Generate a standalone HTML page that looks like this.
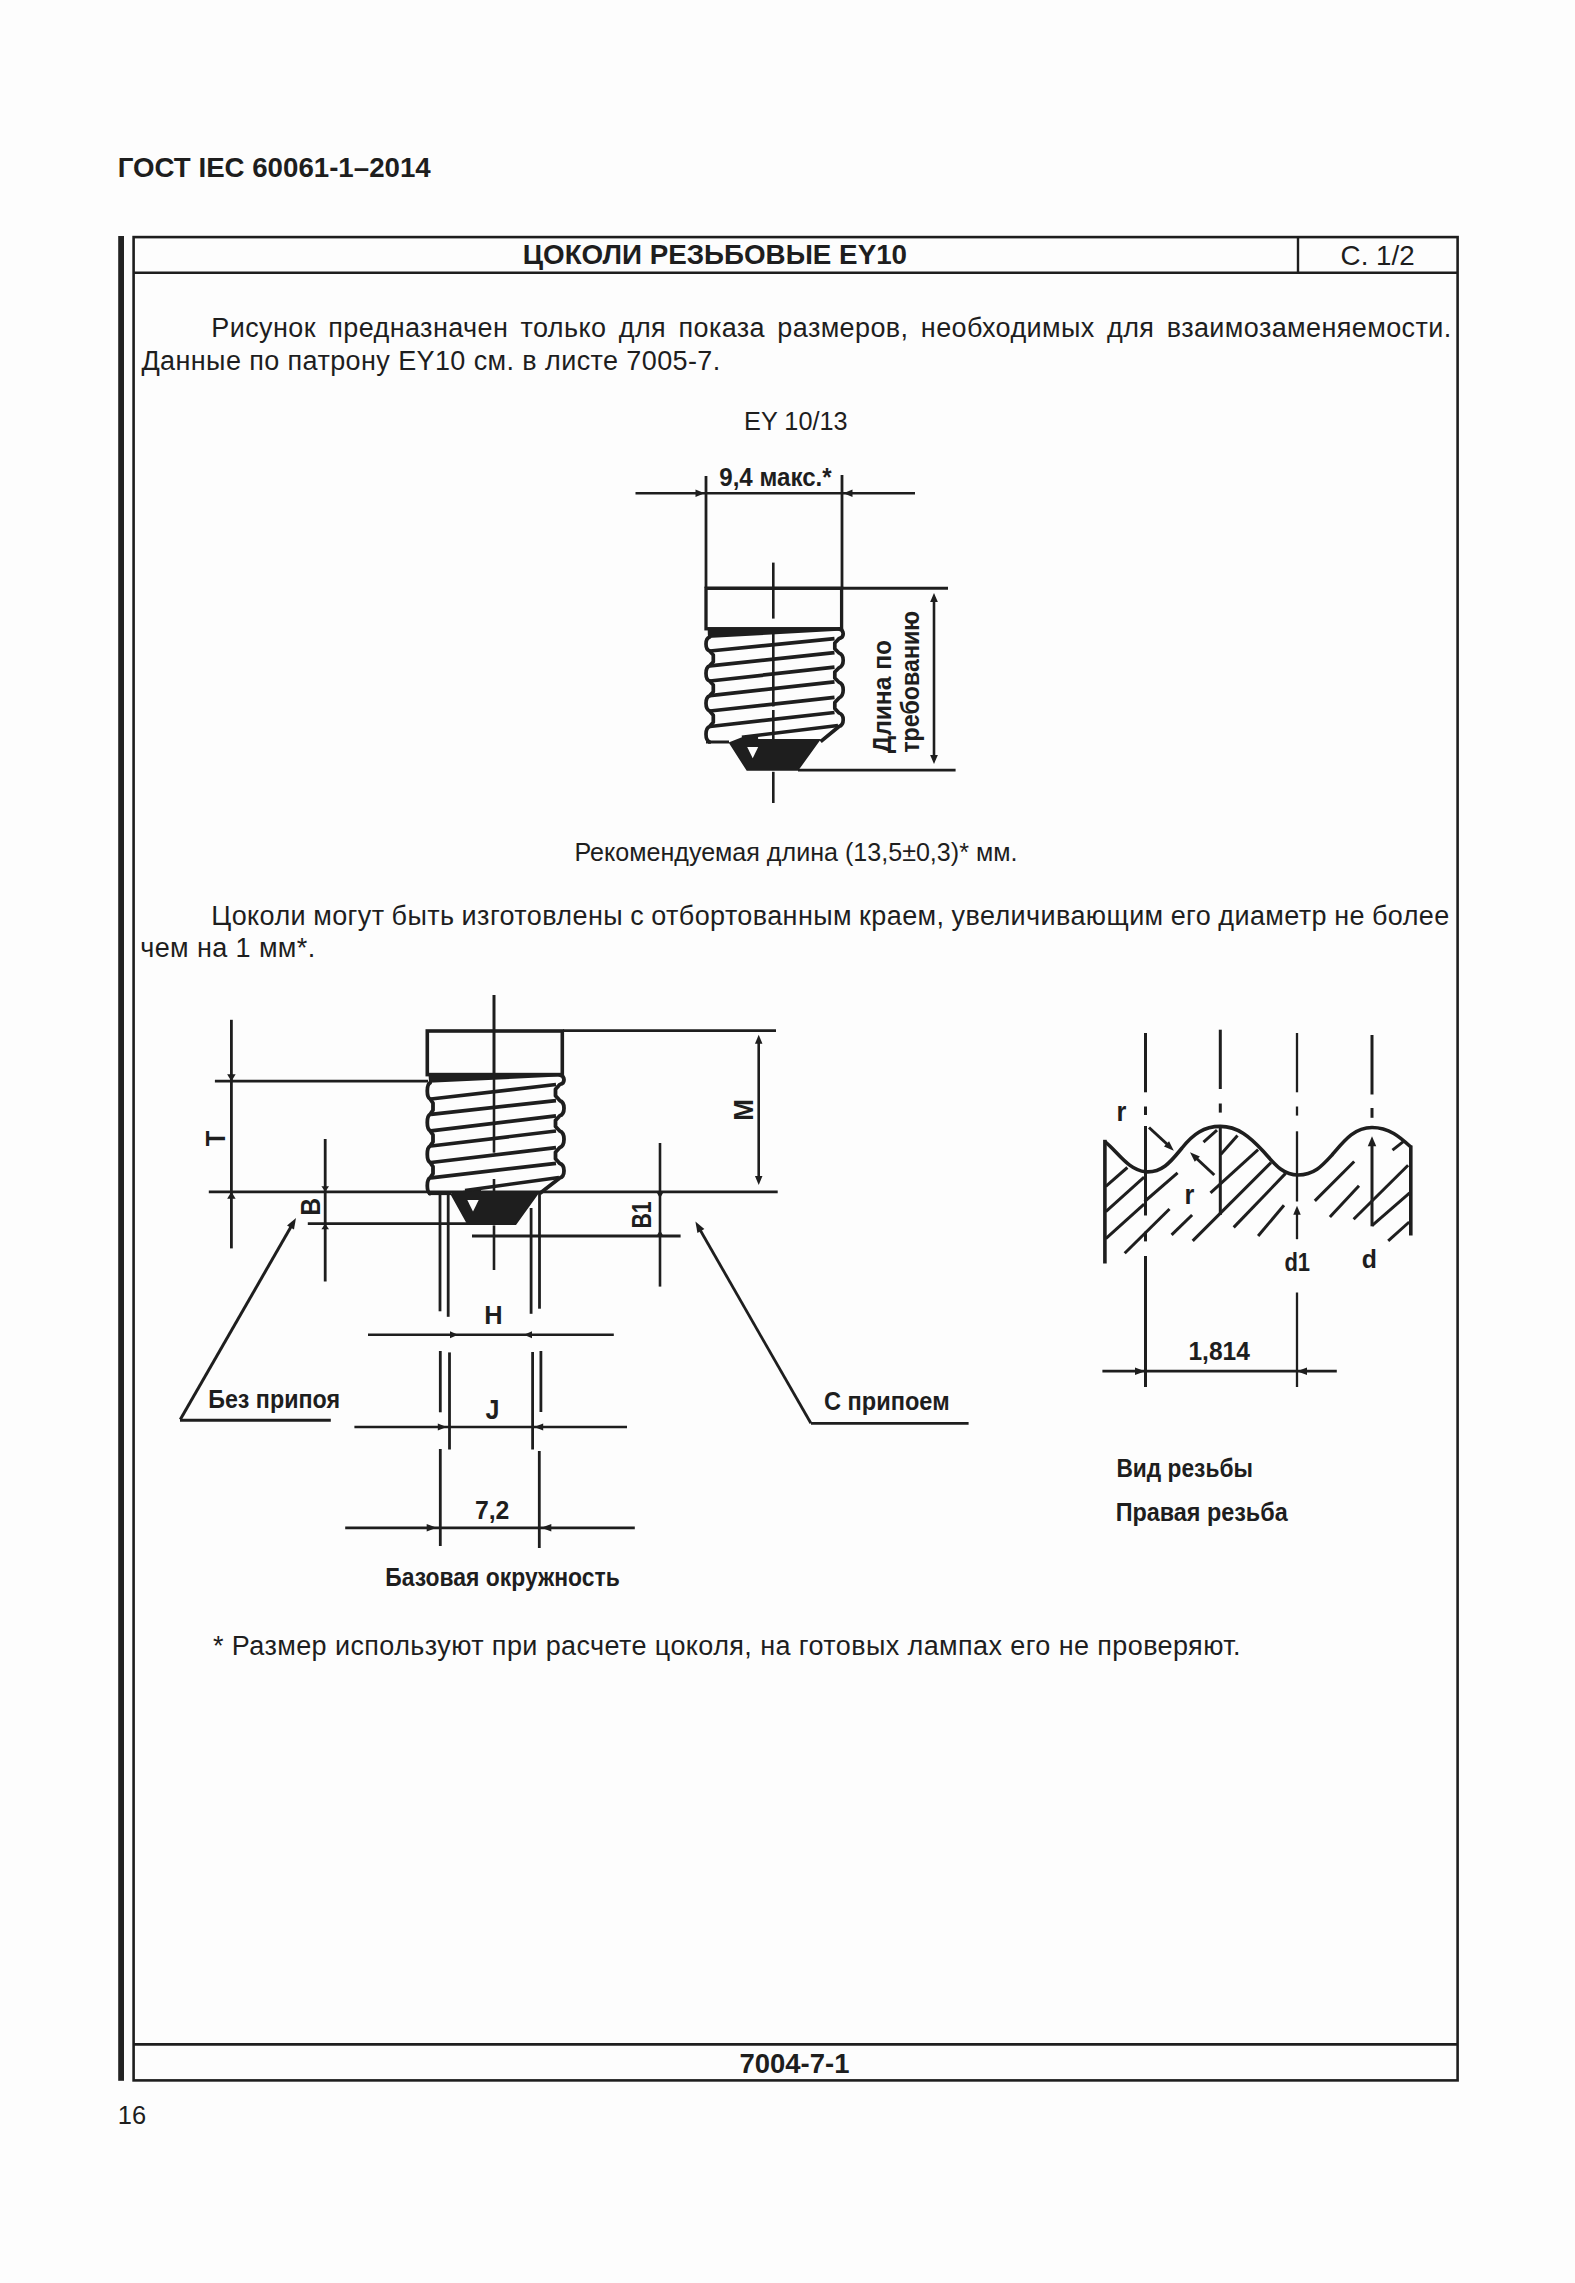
<!DOCTYPE html>
<html><head><meta charset="utf-8"><title>ГОСТ IEC 60061-1–2014</title>
<style>
html,body{margin:0;padding:0;background:#fdfdfd;}
body{width:1575px;height:2283px;position:relative;overflow:hidden;font-family:"Liberation Sans",sans-serif;color:#1e1e1e;}
.p{position:absolute;font-size:27px;line-height:33px;letter-spacing:0.4px;white-space:nowrap;}
</style></head>
<body>
<svg width="1575" height="2283" viewBox="0 0 1575 2283" style="position:absolute;left:0;top:0">
<g stroke="#1e1e1e" fill="#1e1e1e" stroke-linecap="butt">
<rect x="118.2" y="236" width="5.8" height="1844.8" fill="#232323" stroke="none"/>
<rect x="133.6" y="237.1" width="1324" height="1843.3" fill="none" stroke-width="2.6"/>
<line x1="133.6" y1="272.7" x2="1457.6" y2="272.7" stroke-width="2.60"/>
<line x1="1298" y1="237.1" x2="1298" y2="272.7" stroke-width="2.40"/>
<line x1="133.6" y1="2044.4" x2="1457.6" y2="2044.4" stroke-width="2.70"/>
<line x1="706" y1="476" x2="706" y2="588" stroke-width="2.80"/>
<line x1="842" y1="475" x2="842" y2="588" stroke-width="2.80"/>
<line x1="635.5" y1="493.3" x2="915" y2="493.3" stroke-width="2.60"/>
<polygon points="704.50,493.30 695.50,497.05 695.50,489.55" stroke="none"/>
<polygon points="843.50,493.30 852.50,489.55 852.50,497.05" stroke="none"/>
<line x1="706" y1="588.3" x2="948" y2="588.3" stroke-width="3.00"/>
<rect x="706" y="588.3" width="135.6" height="40.5" fill="none" stroke-width="3.3"/>
<line x1="773.3" y1="562.6" x2="773.3" y2="618.6" stroke-width="2.60"/>
<polygon points="707.6,627.2 843.0,627.2 843.2,630.6 708.0,638.0" stroke="none"/>
<path d="M708.30,636.50 L709.65,637.00 C704.78,638.68 704.78,649.32 709.65,651.00 L713.30,655.00 L713.30,661.80 L709.65,665.80 C704.78,667.62 704.78,679.18 709.65,681.00 L713.30,684.97 L713.30,691.73 L709.65,695.70 C704.78,697.54 704.78,709.16 709.65,711.00 L713.30,715.18 L713.30,722.32 L709.65,726.50 C704.78,728.36 704.78,740.14 709.65,742.00 L708.00,742.00" fill="none" stroke-width="3.7" stroke-linejoin="round"/>
<path d="M841.40,628.50 L839.00,629.00 C844.60,630.15 844.60,637.45 839.00,638.60 L834.80,642.92 L834.80,648.68 L839.00,653.00 C844.60,654.76 844.60,665.94 839.00,667.70 L834.80,672.08 L834.80,677.92 L839.00,682.30 C844.60,684.17 844.60,696.03 839.00,697.90 L834.80,702.43 L834.80,708.47 L839.00,713.00 C844.60,714.62 844.60,724.88 839.00,726.50 L820.60,741.60" fill="none" stroke-width="3.7" stroke-linejoin="round"/>
<line x1="710" y1="651.0" x2="834.5" y2="638.6" stroke-width="3.70"/>
<line x1="710" y1="665.8" x2="834.5" y2="652.6" stroke-width="3.70"/>
<line x1="710" y1="681.0" x2="834.5" y2="667.2" stroke-width="3.70"/>
<line x1="710" y1="695.7" x2="834.5" y2="681.8" stroke-width="3.70"/>
<line x1="710" y1="711.0" x2="834.5" y2="697.4" stroke-width="3.70"/>
<line x1="710" y1="726.5" x2="834.5" y2="712.5" stroke-width="3.70"/>
<line x1="706" y1="742" x2="729" y2="742" stroke-width="3.00"/>
<line x1="773.3" y1="633.7" x2="773.3" y2="706.5" stroke-width="2.60"/>
<line x1="773.3" y1="710" x2="773.3" y2="742" stroke-width="2.60"/>
<polygon points="728.6,742.6 741.9,737.2 758.1,735.4 758.1,739 821,739 798.1,770.8 746.7,770.8" stroke="none"/>
<line x1="741.9" y1="737.2" x2="838" y2="725.5" stroke-width="3.50"/>
<polygon points="747.2,747 758.2,747 752.7,758.3" fill="#fdfdfd" stroke="none"/>
<line x1="773.3" y1="771.8" x2="773.3" y2="803" stroke-width="2.60"/>
<line x1="798" y1="770.2" x2="955.6" y2="770.2" stroke-width="2.80"/>
<line x1="934" y1="597" x2="934" y2="760" stroke-width="2.60"/>
<polygon points="934.00,593.00 937.85,602.00 930.15,602.00" stroke="none"/>
<polygon points="934.00,764.00 930.15,755.00 937.85,755.00" stroke="none"/>
<line x1="231.4" y1="1019.8" x2="231.4" y2="1248.4" stroke-width="2.80"/>
<polygon points="231.40,1081.20 227.15,1074.20 235.65,1074.20" stroke="none"/>
<polygon points="231.40,1191.80 235.65,1198.80 227.15,1198.80" stroke="none"/>
<line x1="214.9" y1="1081.2" x2="428" y2="1081.2" stroke-width="2.80"/>
<line x1="208.8" y1="1191.8" x2="777.7" y2="1191.8" stroke-width="2.80"/>
<line x1="325.2" y1="1139" x2="325.2" y2="1281.5" stroke-width="2.80"/>
<polygon points="325.20,1191.80 321.40,1186.30 329.00,1186.30" stroke="none"/>
<polygon points="325.20,1223.70 329.00,1229.20 321.40,1229.20" stroke="none"/>
<line x1="307.8" y1="1223.7" x2="470" y2="1223.7" stroke-width="2.80"/>
<line x1="563" y1="1030.6" x2="776" y2="1030.6" stroke-width="2.80"/>
<line x1="758.7" y1="1040" x2="758.7" y2="1180" stroke-width="2.60"/>
<polygon points="758.70,1034.80 762.45,1043.80 754.95,1043.80" stroke="none"/>
<polygon points="758.70,1185.00 754.95,1176.00 762.45,1176.00" stroke="none"/>
<line x1="660" y1="1143" x2="660" y2="1286.6" stroke-width="2.60"/>
<polygon points="660.00,1198.20 656.30,1191.80 663.70,1191.80" stroke="none"/>
<polygon points="660.00,1230.20 663.70,1236.40 656.30,1236.40" stroke="none"/>
<line x1="472" y1="1236" x2="680.6" y2="1236" stroke-width="2.80"/>
<line x1="180.3" y1="1419.6" x2="292" y2="1225" stroke-width="3.00"/>
<polygon points="296.00,1218.00 293.96,1229.53 287.04,1225.53" stroke="none"/>
<line x1="180" y1="1420.2" x2="330.8" y2="1420.2" stroke-width="3.00"/>
<line x1="810.9" y1="1423.3" x2="699" y2="1228" stroke-width="2.80"/>
<polygon points="695.40,1221.40 704.36,1228.93 697.44,1232.93" stroke="none"/>
<line x1="811" y1="1423.3" x2="968.6" y2="1423.3" stroke-width="2.80"/>
<line x1="494" y1="995" x2="494" y2="1076" stroke-width="3.00"/>
<rect x="427.3" y="1031" width="135" height="43.6" fill="none" stroke-width="3.6"/>
<polygon points="428.5,1073 563.5,1073 563.5,1076.3 429,1082.8" stroke="none"/>
<path d="M429.00,1082.50 L430.15,1082.80 C426.35,1084.74 426.35,1097.06 430.15,1099.00 L433.00,1103.13 L433.00,1110.17 L430.15,1114.30 C426.35,1116.28 426.35,1128.82 430.15,1130.80 L433.00,1134.90 L433.00,1141.90 L430.15,1146.00 C426.35,1147.98 426.35,1160.52 430.15,1162.50 L433.00,1166.63 L433.00,1173.67 L430.15,1177.80 C426.35,1179.68 426.35,1191.62 430.15,1193.50 L429.00,1193.50" fill="none" stroke-width="3.8" stroke-linejoin="round"/>
<path d="M562.30,1074.50 L559.75,1075.00 C565.42,1076.14 565.42,1083.36 559.75,1084.50 L555.50,1089.33 L555.50,1095.77 L559.75,1100.60 C565.42,1102.42 565.42,1113.98 559.75,1115.80 L555.50,1120.36 L555.50,1126.44 L559.75,1131.00 C565.42,1132.99 565.42,1145.61 559.75,1147.60 L555.50,1152.34 L555.50,1158.66 L559.75,1163.40 C565.42,1165.15 565.42,1176.25 559.75,1178.00 L539.70,1193.50" fill="none" stroke-width="3.8" stroke-linejoin="round"/>
<line x1="431" y1="1099" x2="556" y2="1084.5" stroke-width="3.70"/>
<line x1="431" y1="1114.3" x2="556" y2="1100.6" stroke-width="3.70"/>
<line x1="431" y1="1130.8" x2="556" y2="1115.8" stroke-width="3.70"/>
<line x1="431" y1="1146" x2="556" y2="1131" stroke-width="3.70"/>
<line x1="431" y1="1162.5" x2="556" y2="1147.6" stroke-width="3.70"/>
<line x1="431" y1="1177.8" x2="556" y2="1163.4" stroke-width="3.70"/>
<line x1="428" y1="1193.5" x2="451" y2="1193.5" stroke-width="3.20"/>
<line x1="494" y1="1076" x2="494" y2="1152.7" stroke-width="2.60"/>
<line x1="494" y1="1179" x2="494" y2="1191" stroke-width="2.60"/>
<polygon points="450,1193.5 465,1190.5 481,1189.5 481,1191 540.5,1191 516,1225 467.5,1225" stroke="none"/>
<line x1="465" y1="1190.5" x2="559" y2="1177.5" stroke-width="3.60"/>
<polygon points="467.3,1200 478.7,1200 473,1211.4" fill="#fdfdfd" stroke="none"/>
<line x1="494" y1="1225.4" x2="494" y2="1270" stroke-width="2.60"/>
<line x1="440" y1="1193" x2="440" y2="1311.3" stroke-width="2.80"/>
<line x1="448.2" y1="1193" x2="448.2" y2="1316.8" stroke-width="2.80"/>
<line x1="531.1" y1="1208" x2="531.1" y2="1313.8" stroke-width="2.80"/>
<line x1="539.5" y1="1193" x2="539.5" y2="1308.7" stroke-width="2.80"/>
<line x1="440.3" y1="1351" x2="440.3" y2="1412.3" stroke-width="2.80"/>
<line x1="449.5" y1="1352.4" x2="449.5" y2="1449.5" stroke-width="2.80"/>
<line x1="532.6" y1="1352" x2="532.6" y2="1449.5" stroke-width="2.80"/>
<line x1="540.9" y1="1351" x2="540.9" y2="1412" stroke-width="2.80"/>
<line x1="440.3" y1="1449" x2="440.3" y2="1546" stroke-width="2.80"/>
<line x1="539.3" y1="1451" x2="539.3" y2="1548" stroke-width="2.80"/>
<line x1="368" y1="1334.7" x2="613.8" y2="1334.7" stroke-width="2.60"/>
<polygon points="458.00,1334.70 450.00,1338.20 450.00,1331.20" stroke="none"/>
<polygon points="524.00,1334.70 532.00,1331.20 532.00,1338.20" stroke="none"/>
<line x1="354.4" y1="1427" x2="627" y2="1427" stroke-width="2.60"/>
<polygon points="446.80,1427.00 437.80,1430.50 437.80,1423.50" stroke="none"/>
<polygon points="534.20,1427.00 543.20,1423.50 543.20,1430.50" stroke="none"/>
<line x1="345.2" y1="1527.8" x2="634.8" y2="1527.8" stroke-width="2.80"/>
<polygon points="436.70,1527.80 426.70,1531.55 426.70,1524.05" stroke="none"/>
<polygon points="541.30,1527.80 551.30,1524.05 551.30,1531.55" stroke="none"/>
<line x1="1145.5" y1="1033" x2="1145.5" y2="1092.3" stroke-width="3.00"/>
<line x1="1145.5" y1="1106.5" x2="1145.5" y2="1115" stroke-width="3.00"/>
<line x1="1145.5" y1="1126" x2="1145.5" y2="1215.5" stroke-width="3.00"/>
<line x1="1145.5" y1="1231.7" x2="1145.5" y2="1241.4" stroke-width="3.00"/>
<line x1="1145.5" y1="1256" x2="1145.5" y2="1387" stroke-width="3.00"/>
<line x1="1220.3" y1="1029.7" x2="1220.3" y2="1089" stroke-width="3.00"/>
<line x1="1220.3" y1="1103.5" x2="1220.3" y2="1112.6" stroke-width="3.00"/>
<line x1="1220.3" y1="1126.4" x2="1220.3" y2="1215" stroke-width="3.00"/>
<line x1="1297" y1="1033" x2="1297" y2="1092.3" stroke-width="2.30"/>
<line x1="1297" y1="1106.5" x2="1297" y2="1115.6" stroke-width="2.30"/>
<line x1="1297" y1="1131.3" x2="1297" y2="1201.5" stroke-width="2.30"/>
<line x1="1297" y1="1214" x2="1297" y2="1239.2" stroke-width="2.30"/>
<line x1="1297" y1="1292.5" x2="1297" y2="1387" stroke-width="2.30"/>
<line x1="1372" y1="1035" x2="1372" y2="1094.5" stroke-width="3.00"/>
<line x1="1372" y1="1108" x2="1372" y2="1117.8" stroke-width="3.00"/>
<line x1="1372" y1="1144" x2="1372" y2="1226.3" stroke-width="3.00"/>
<polygon points="1297.00,1205.70 1300.75,1214.70 1293.25,1214.70" stroke="none"/>
<polygon points="1372.00,1136.20 1376.25,1146.20 1367.75,1146.20" stroke="none"/>
<path d="M1104.9,1141.6 C1118,1152 1128,1170 1145.6,1171.8 C1163,1173 1172,1160 1182,1148 C1193,1134 1204,1126.4 1220.3,1126.4 C1238,1126.4 1250,1137 1263,1151 C1274,1163 1282,1175 1298,1175 C1314,1175 1322,1166 1332,1155 C1344,1141 1354,1127.5 1372,1127.5 C1389,1127.5 1400,1137 1410.8,1147" fill="none" stroke-width="3.6"/>
<line x1="1104.9" y1="1139.8" x2="1104.9" y2="1263.5" stroke-width="3.60"/>
<line x1="1410.8" y1="1145.5" x2="1410.8" y2="1235.5" stroke-width="3.60"/>
<line x1="1105.8" y1="1186.3" x2="1127.4" y2="1167.5" stroke-width="3.00"/>
<line x1="1105.8" y1="1211.7" x2="1144.1" y2="1177.2" stroke-width="3.00"/>
<line x1="1144.6" y1="1201.5" x2="1177.6" y2="1172.9" stroke-width="3.00"/>
<line x1="1105.8" y1="1238.7" x2="1144.1" y2="1204.2" stroke-width="3.00"/>
<line x1="1124.7" y1="1253.3" x2="1169.5" y2="1209" stroke-width="3.00"/>
<line x1="1171.6" y1="1234.9" x2="1192.1" y2="1215" stroke-width="3.00"/>
<line x1="1203.5" y1="1142.1" x2="1217" y2="1130.2" stroke-width="3.00"/>
<line x1="1220.7" y1="1154.5" x2="1237.5" y2="1135.6" stroke-width="3.00"/>
<line x1="1210.5" y1="1192.8" x2="1258.1" y2="1149.6" stroke-width="3.00"/>
<line x1="1192.7" y1="1240.9" x2="1271" y2="1162.6" stroke-width="3.00"/>
<line x1="1233.7" y1="1227.4" x2="1285.6" y2="1173.4" stroke-width="3.00"/>
<line x1="1258.1" y1="1236" x2="1284" y2="1205.2" stroke-width="3.00"/>
<line x1="1314.8" y1="1200.9" x2="1354.2" y2="1161.5" stroke-width="3.00"/>
<line x1="1329.9" y1="1217.1" x2="1359" y2="1185.8" stroke-width="3.00"/>
<line x1="1353.6" y1="1219.3" x2="1408.1" y2="1165.3" stroke-width="3.00"/>
<line x1="1372" y1="1225.7" x2="1409.7" y2="1192.8" stroke-width="3.00"/>
<line x1="1388.2" y1="1240.8" x2="1409.2" y2="1222" stroke-width="3.00"/>
<line x1="1392.5" y1="1150.2" x2="1403.3" y2="1141.6" stroke-width="3.00"/>
<line x1="1149" y1="1127.5" x2="1168" y2="1145" stroke-width="3.00"/>
<polygon points="1173.80,1150.70 1163.94,1146.61 1169.06,1141.13" stroke="none"/>
<line x1="1214.3" y1="1175" x2="1195.5" y2="1157.5" stroke-width="3.00"/>
<polygon points="1190.00,1152.30 1199.87,1156.39 1194.75,1161.87" stroke="none"/>
<line x1="1102.4" y1="1371.2" x2="1336.8" y2="1371.2" stroke-width="2.80"/>
<polygon points="1145.00,1371.20 1135.00,1374.95 1135.00,1367.45" stroke="none"/>
<polygon points="1297.00,1371.20 1307.00,1367.45 1307.00,1374.95" stroke="none"/>
</g>
<g fill="#1e1e1e" font-family="Liberation Sans, sans-serif">
<text x="117.76" y="177.10" font-weight="bold" font-size="27.97" textLength="312.92" lengthAdjust="spacingAndGlyphs">ГОСТ IEC 60061-1–2014</text>
<text x="522.76" y="264.30" font-weight="bold" font-size="26.96" textLength="384.30" lengthAdjust="spacingAndGlyphs">ЦОКОЛИ РЕЗЬБОВЫЕ EY10</text>
<text x="1340.61" y="265.00" font-weight="normal" font-size="27.54" textLength="74.02" lengthAdjust="spacingAndGlyphs">С. 1/2</text>
<text x="744.08" y="429.70" font-weight="normal" font-size="25.36" textLength="103.49" lengthAdjust="spacingAndGlyphs">EY 10/13</text>
<text x="719.28" y="485.80" font-weight="bold" font-size="26.67" textLength="112.35" lengthAdjust="spacingAndGlyphs">9,4 макс.*</text>
<text x="574.39" y="861.30" font-weight="normal" font-size="25.51" textLength="442.98" lengthAdjust="spacingAndGlyphs">Рекомендуемая длина (13,5±0,3)* мм.</text>
<text x="208.17" y="1408.10" font-weight="bold" font-size="26.23" textLength="131.87" lengthAdjust="spacingAndGlyphs">Без припоя</text>
<text x="824.06" y="1410.00" font-weight="bold" font-size="25.36" textLength="125.53" lengthAdjust="spacingAndGlyphs">С припоем</text>
<text x="484.22" y="1324.00" font-weight="bold" font-size="26.52" textLength="18.36" lengthAdjust="spacingAndGlyphs">H</text>
<text x="485.50" y="1419.40" font-weight="bold" font-size="27.54" textLength="13.97" lengthAdjust="spacingAndGlyphs">J</text>
<text x="474.91" y="1519.20" font-weight="bold" font-size="24.93" textLength="34.49" lengthAdjust="spacingAndGlyphs">7,2</text>
<text x="385.30" y="1585.90" font-weight="bold" font-size="25.94" textLength="234.47" lengthAdjust="spacingAndGlyphs">Базовая окружность</text>
<text x="1116.43" y="1120.50" font-weight="bold" font-size="26.81" textLength="9.86" lengthAdjust="spacingAndGlyphs">r</text>
<text x="1184.43" y="1203.60" font-weight="bold" font-size="26.81" textLength="9.86" lengthAdjust="spacingAndGlyphs">r</text>
<text x="1284.42" y="1270.50" font-weight="bold" font-size="24.93" textLength="25.67" lengthAdjust="spacingAndGlyphs">d1</text>
<text x="1361.81" y="1268.00" font-weight="bold" font-size="24.93" textLength="15.15" lengthAdjust="spacingAndGlyphs">d</text>
<text x="1188.43" y="1359.70" font-weight="bold" font-size="26.38" textLength="61.43" lengthAdjust="spacingAndGlyphs">1,814</text>
<text x="1116.41" y="1476.70" font-weight="bold" font-size="26.09" textLength="136.48" lengthAdjust="spacingAndGlyphs">Вид резьбы</text>
<text x="1115.66" y="1520.70" font-weight="bold" font-size="26.09" textLength="172.04" lengthAdjust="spacingAndGlyphs">Правая резьба</text>
<text x="739.50" y="2072.60" font-weight="bold" font-size="27.54" textLength="109.93" lengthAdjust="spacingAndGlyphs">7004-7-1</text>
<text x="117.76" y="2124.00" font-weight="normal" font-size="25.22" textLength="28.31" lengthAdjust="spacingAndGlyphs">16</text>
<text transform="translate(225.00 1146.25) rotate(-90)" x="0" y="0" font-weight="bold" font-size="27.54" textLength="15.53" lengthAdjust="spacingAndGlyphs">T</text>
<text transform="translate(320.00 1215.50) rotate(-90)" x="0" y="0" font-weight="bold" font-size="27.54" textLength="17.52" lengthAdjust="spacingAndGlyphs">B</text>
<text transform="translate(753.00 1120.82) rotate(-90)" x="0" y="0" font-weight="bold" font-size="27.54" textLength="21.66" lengthAdjust="spacingAndGlyphs">M</text>
<text transform="translate(650.90 1228.59) rotate(-90)" x="0" y="0" font-weight="bold" font-size="28.26" textLength="27.19" lengthAdjust="spacingAndGlyphs">B1</text>
<text transform="translate(890.80 753.35) rotate(-90)" x="0" y="0" font-weight="bold" font-size="25.07" textLength="113.41" lengthAdjust="spacingAndGlyphs">Длина по</text>
<text transform="translate(919.00 752.80) rotate(-90)" x="0" y="0" font-weight="bold" font-size="25.51" textLength="141.89" lengthAdjust="spacingAndGlyphs">требованию</text>
</g>
</svg>
<div class="p" style="left:211.30px;top:311.74px;word-spacing:4.450px">Рисунок предназначен только для показа размеров, необходимых для взаимозаменяемости.</div>
<div class="p" style="left:141.40px;top:344.74px;word-spacing:0.000px">Данные по патрону EY10 см. в листе 7005-7.</div>
<div class="p" style="left:211.30px;top:899.54px;word-spacing:-0.782px">Цоколи могут быть изготовлены с отбортованным краем, увеличивающим его диаметр не более</div>
<div class="p" style="left:140.20px;top:932.24px;word-spacing:0.000px">чем на 1 мм*.</div>
<div class="p" style="left:213.00px;top:1630.44px;word-spacing:0.000px">* Размер используют при расчете цоколя, на готовых лампах его не проверяют.</div>

</body></html>
